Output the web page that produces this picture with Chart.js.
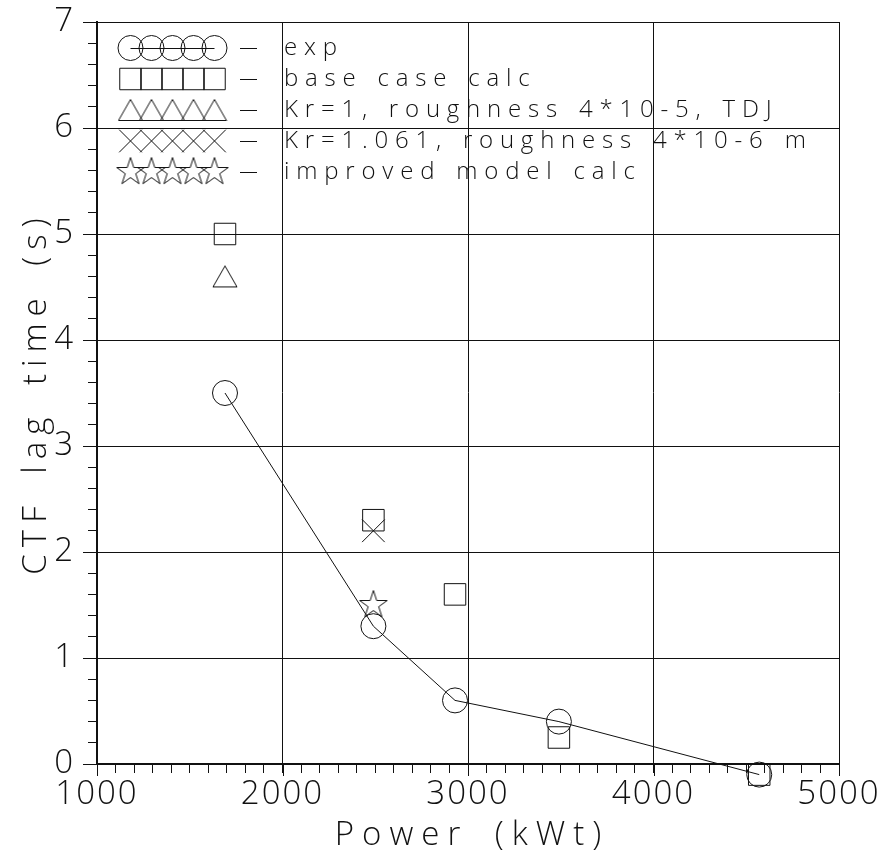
<!DOCTYPE html>
<html>
<head>
<meta charset="utf-8">
<script src="https://cdn.jsdelivr.net/npm/chart.js@4/dist/chart.umd.min.js"></script>
<style>
  html, body { margin: 0; padding: 0; background: #fff; }
  #wrap { position: relative; width: 887px; height: 855px; }
</style>
</head>
<body>
<div id="wrap"><canvas id="c"></canvas></div>
<script>
// Experimental and calculated CTF lag times versus reactor power
const powerExp = [1690, 2490, 2930, 3490, 4570];
const lagExp = [3.5, 1.3, 0.6, 0.4, -0.1];
const powerBase = [1690, 2490, 2930, 3490, 4570];
const lagBase = [5.0, 2.3, 1.6, 0.25, -0.1];
const powerTdj = [1690];
const lagTdj = [4.6];
const powerKr = [2490];
const lagKr = [2.2];
const powerImproved = [2490];
const lagImproved = [1.5];

const seriesLabels = [
  'exp',
  'base case calc',
  'Kr=1, roughness 4*10-5, TDJ',
  'Kr=1.061, roughness 4*10-6 m',
  'improved model calc'
];
const xTitle = 'Power (kWt)';
const yTitle = 'CTF lag time (s)';

const FONT = "'Open Sans', 'DejaVu Sans', sans-serif";
const INK = '#111';

function toPoints(xs, ys) { return xs.map((x, i) => ({ x, y: ys[i] })); }

// Outline triangle, centred on its bounding box
function triangleMarker() {
  const c = document.createElement('canvas');
  c.width = 26; c.height = 24;
  const g = c.getContext('2d');
  g.strokeStyle = INK; g.lineWidth = 1;
  g.beginPath();
  g.moveTo(13, 1.5); g.lineTo(25, 22.5); g.lineTo(1, 22.5); g.closePath();
  g.stroke();
  return c;
}
// Outline five-pointed star
function starMarker() {
  const c = document.createElement('canvas');
  c.width = 32; c.height = 32;
  const g = c.getContext('2d');
  g.strokeStyle = INK; g.lineWidth = 1;
  const R = 14.5, r = R * 0.382, cx = 16, cy = 16;
  g.beginPath();
  for (let i = 0; i < 10; i++) {
    const rad = (i % 2 === 0) ? R : r;
    const a = -Math.PI / 2 + i * Math.PI / 5;
    const px = cx + rad * Math.cos(a), py = cy + rad * Math.sin(a);
    if (i === 0) g.moveTo(px, py); else g.lineTo(px, py);
  }
  g.closePath();
  g.stroke();
  return c;
}
const triImg = triangleMarker();
const starImg = starMarker();

const markerStyles = [
  { pointStyle: 'circle', radius: 12.5 },
  { pointStyle: 'rect', radius: 15.2 },
  { pointStyle: triImg, radius: 12 },
  { pointStyle: 'crossRot', radius: 16 },
  { pointStyle: starImg, radius: 14 }
];

function ds(label, xs, ys, m, line) {
  return {
    label,
    data: toPoints(xs, ys),
    showLine: !!line,
    borderColor: INK,
    borderWidth: 1,
    pointStyle: m.pointStyle,
    pointRadius: m.radius,
    pointHoverRadius: m.radius,
    pointBorderColor: INK,
    pointBackgroundColor: 'rgba(0,0,0,0)',
    pointBorderWidth: 1,
    clip: false
  };
}

const isMajor = (v, step) => Math.abs(v / step - Math.round(v / step)) < 1e-6;

// Longer tick marks at labelled values, axis titles and the key
const decorations = {
  id: 'decorations',
  beforeDraw(chart) {
    chart.ctx.letterSpacing = '2px';
  },
  afterDraw(chart) {
    const { ctx, chartArea: a, scales } = chart;
    const xs = scales.x, ys = scales.y;
    ctx.save();
    ctx.strokeStyle = INK;
    ctx.lineWidth = 1;
    ctx.beginPath();
    for (let v = 1000; v <= 5000; v += 1000) {
      const px = Math.round(xs.getPixelForValue(v)) + 0.5;
      ctx.moveTo(px, a.bottom); ctx.lineTo(px, a.bottom + 12);
    }
    for (let v = 0; v <= 7; v += 1) {
      const py = Math.round(ys.getPixelForValue(v)) + 0.5;
      ctx.moveTo(a.left, py); ctx.lineTo(a.left - 14, py);
    }
    ctx.stroke();

    // axis titles
    ctx.fillStyle = INK;
    ctx.font = `300 33px ${FONT}`;
    ctx.letterSpacing = '8px';
    ctx.wordSpacing = '10px';
    ctx.textAlign = 'center';
    ctx.textBaseline = 'alphabetic';
    ctx.fillText(xTitle, (a.left + a.right) / 2 + 4, 845);
    ctx.letterSpacing = '7px';
    ctx.save();
    ctx.translate(46, (a.top + a.bottom) / 2);
    ctx.rotate(-Math.PI / 2);
    ctx.fillText(yTitle, 0, 0);
    ctx.restore();

    // key
    const rowY = [48, 79, 110, 141, 172];
    const x0 = a.left + 33.5, dx = 21;
    rowY.forEach((y, i) => {
      const m = markerStyles[i];
      ctx.fillStyle = 'rgba(0,0,0,0)';
      ctx.strokeStyle = INK;
      for (let k = 0; k < 5; k++) {
        Chart.helpers.drawPoint(ctx, {
          pointStyle: m.pointStyle, radius: m.radius, rotation: 0, borderWidth: 1
        }, x0 + k * dx, y);
      }
      ctx.beginPath();
      if (i === 0) {
        ctx.moveTo(x0, y + 0.5); ctx.lineTo(x0 + 4 * dx, y + 0.5);
      }
      ctx.moveTo(240, y + 0.5); ctx.lineTo(257, y + 0.5);
      ctx.stroke();
    });
    ctx.fillStyle = INK;
    ctx.font = `300 24px ${FONT}`;
    ctx.letterSpacing = '6.8px';
    ctx.wordSpacing = '2px';
    ctx.textAlign = 'left';
    ctx.textBaseline = 'middle';
    rowY.forEach((y, i) => ctx.fillText(seriesLabels[i], 284, y));
    ctx.restore();
  }
};

new Chart(document.getElementById('c'), {
  type: 'scatter',
  data: {
    datasets: [
      ds(seriesLabels[0], powerExp, lagExp, markerStyles[0], true),
      ds(seriesLabels[1], powerBase, lagBase, markerStyles[1]),
      ds(seriesLabels[2], powerTdj, lagTdj, markerStyles[2]),
      ds(seriesLabels[3], powerKr, lagKr, markerStyles[3]),
      ds(seriesLabels[4], powerImproved, lagImproved, markerStyles[4])
    ]
  },
  options: {
    responsive: true,
    maintainAspectRatio: false,
    animation: false,
    events: [],
    layout: { padding: { left: 0, right: 48, top: 22, bottom: 0 } },
    plugins: { legend: { display: false }, tooltip: { enabled: false } },
    scales: {
      x: {
        type: 'linear',
        min: 1000, max: 5000,
        ticks: {
          stepSize: 100,
          autoSkip: false,
          maxRotation: 0,
          padding: 2,
          color: INK,
          font: { family: FONT, size: 33, weight: '300' },
          callback: (v) => isMajor(v, 1000) ? String(v) : ''
        },
        grid: {
          color: (c) => isMajor(c.tick.value, 1000) ? INK : 'rgba(0,0,0,0)',
          tickColor: INK,
          tickLength: 9,
          lineWidth: 1
        },
        border: { display: true, color: INK, width: 2 },
        afterFit(s) { s.height = 91; s.paddingLeft = 0; s.paddingRight = 0; }
      },
      y: {
        type: 'linear',
        min: 0, max: 7,
        ticks: {
          stepSize: 0.2,
          autoSkip: false,
          padding: 13,
          color: INK,
          font: { family: FONT, size: 33, weight: '300' },
          callback: (v) => isMajor(v, 1) ? String(Math.round(v)) : ''
        },
        grid: {
          color: (c) => isMajor(c.tick.value, 1) ? INK : 'rgba(0,0,0,0)',
          tickColor: INK,
          tickLength: 9,
          lineWidth: 1
        },
        border: { display: true, color: INK, width: 2 },
        afterFit(s) { s.width = 97; s.paddingTop = 0; s.paddingBottom = 0; }
      }
    }
  },
  plugins: [decorations]
});
</script>
</body>
</html>
